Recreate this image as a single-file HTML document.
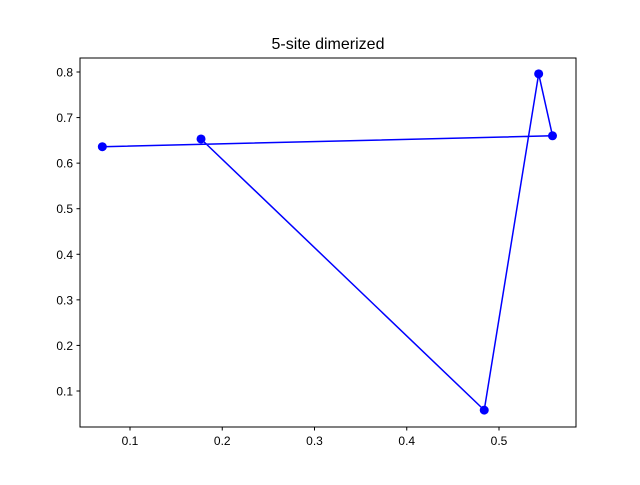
<!DOCTYPE html>
<html><head><meta charset="utf-8"><style>
body{margin:0;background:#fff;}
svg text{font-family:"Liberation Sans","DejaVu Sans",sans-serif;}
</style></head><body>
<svg width="640" height="480" xmlns="http://www.w3.org/2000/svg">
<rect width="640" height="480" fill="#fff"/>
<text x="328" y="49" font-size="16" text-anchor="middle">5-site dimerized</text>
<g id="ticks"></g>
<polyline id="line" fill="none" stroke="#0000ff" stroke-width="1.5"/>
<g id="pts"></g>
<rect x="80" y="58" width="496" height="369" fill="none" stroke="#000" stroke-width="1"/>
</svg>
<script>
const xs=[0.070,0.558,0.543,0.484,0.177];
const ys=[0.636,0.660,0.796,0.058,0.653];
const xTicks=[0.1,0.2,0.3,0.4,0.5];
const yTicks=[0.1,0.2,0.3,0.4,0.5,0.6,0.7,0.8];
function X(v){return 130+(v-0.1)*922.5;}
function Y(v){return 72+(0.8-v)*455.7;}
const NS="http://www.w3.org/2000/svg";
const tg=document.getElementById('ticks');
xTicks.forEach(t=>{
 const l=document.createElementNS(NS,'line');
 l.setAttribute('x1',X(t));l.setAttribute('x2',X(t));l.setAttribute('y1',427);l.setAttribute('y2',430.5);l.setAttribute('stroke','#000');
 
 
 tg.appendChild(l);
 const s=document.createElementNS(NS,'text');
 s.setAttribute('x',X(t));s.setAttribute('y',445);s.setAttribute('font-size','12');s.setAttribute('text-anchor','middle');
 s.textContent=t.toFixed(1);
 
 
 tg.appendChild(s);
});
yTicks.forEach(t=>{
 const l=document.createElementNS(NS,'line');
 l.setAttribute('x1',76.5);l.setAttribute('x2',80);l.setAttribute('y1',Y(t));l.setAttribute('y2',Y(t));l.setAttribute('stroke','#000');
 
 
 tg.appendChild(l);
 const s=document.createElementNS(NS,'text');
 s.setAttribute('x',73);s.setAttribute('y',Y(t)+4.5);s.setAttribute('font-size','12');s.setAttribute('text-anchor','end');
 s.textContent=t.toFixed(1);
 
 
 tg.appendChild(s);
});
document.getElementById('line').setAttribute('points',xs.map((v,i)=>X(v)+','+Y(ys[i])).join(' '));
const pg=document.getElementById('pts');
xs.forEach((v,i)=>{
 const c=document.createElementNS(NS,'circle');
 c.setAttribute('cx',X(v));c.setAttribute('cy',Y(ys[i]));c.setAttribute('r',4.5);c.setAttribute('fill','#0000ff');
 
 
 pg.appendChild(c);
});
</script>
</body></html>
